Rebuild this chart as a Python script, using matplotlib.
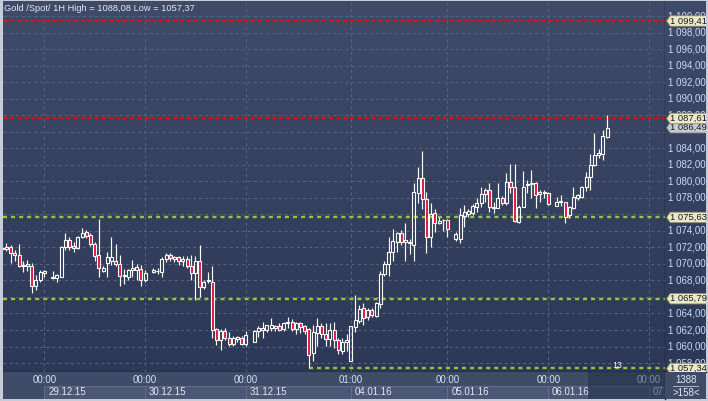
import numpy as np
import matplotlib
matplotlib.use('Agg')
import matplotlib.pyplot as plt
from matplotlib.colors import LinearSegmentedColormap
from matplotlib.patches import Polygon, Rectangle

plt.rcParams['font.family'] = ['Liberation Sans', 'DejaVu Sans']
plt.rcParams['lines.scale_dashes'] = False

# ---------------- data (hourly candles, None = no bar) ----------------
open_ = [1071.85, 1071.75, 1072.05, 1071.35, 1071.05, 1069.75, 1069.8, 1069.75, 1067.3, 1068.05,
         1068.9, None, 1068.3, 1068.3, 1068.45, 1072.0, 1072.9, 1071.9, 1071.9, 1073.2,
         1073.9, 1073.5, 1072.4, 1071.1, 1069.2, 1070.1, 1070.3, 1070.3, 1069.95, 1068.5,
         1068.4, 1069.3, 1069.3, 1069.35, 1068.05, None, 1069.0, 1069.1, 1069.06, 1070.55,
         1071.1, 1070.6, 1070.8, 1070.4, 1070.55, 1069.75, 1068.9, 1070.35, 1067.25, 1067.9,
         1067.85, 1062.1, 1060.8, 1061.9, 1061.0, 1060.3, 1060.9, 1061.0, 1060.3, None,
         1060.6, 1061.9, 1062.0, 1062.0, 1062.3, 1062.3, 1062.5, 1062.1, 1062.8, 1063.0,
         1062.1, 1062.8, 1062.5, 1062.1, 1059.2, 1061.6, 1062.5, 1061.5, 1060.9, 1062.0,
         1060.8, 1059.5, 1060.6, 1058.2, 1062.4, 1063.1, 1064.7, 1063.6, 1064.4, 1063.7,
         1065.2, 1068.8, 1070.0, 1071.5, 1072.7, 1073.7, 1072.6, 1072.5, 1072.3, 1078.6,
         1080.4, 1077.9, 1073.2, 1076.2, 1074.95, 1075.3, 1075.32, None, 1073.05, 1073.05,
         1075.75, 1076.05, 1076.15, 1076.95, 1077.35, 1078.95, 1078.95, 1076.8, 1076.8, 1077.94,
         1077.41, 1079.88, 1079.35, 1075.1, 1076.93, 1079.6, 1079.7, 1079.76, 1078.43, 1078.6,
         1078.6, None, 1077.0, 1077.45, 1077.45, 1075.9, 1076.74, 1077.94, 1078.14, 1079.28,
         1080.49, 1081.98, 1083.19, 1083.3, 1085.33]
high = [1072.0, 1072.5, 1072.3, 1071.7, 1072.45, 1070.3, 1070.5, 1070.15, 1068.65, 1069.3,
        1069.3, None, 1069.2, 1068.8, 1072.15, 1073.8, 1073.3, 1072.6, 1073.4, 1074.3,
        1074.1, 1073.8, 1072.7, 1075.4, 1069.8, 1071.4, 1073.2, 1072.4, 1071.1, 1069.35,
        1069.35, 1070.5, 1070.0, 1069.9, 1069.27, None, 1069.5, 1069.5, 1070.8, 1071.3,
        1071.3, 1071.0, 1071.0, 1070.9, 1070.9, 1071.1, 1071.0, 1072.3, 1068.1, 1069.0,
        1069.75, 1062.3, 1062.1, 1062.3, 1061.7, 1061.3, 1061.3, 1061.3, 1061.9, None,
        1062.0, 1062.5, 1063.0, 1062.6, 1063.4, 1062.6, 1062.8, 1063.0, 1063.6, 1063.3,
        1063.0, 1063.0, 1062.6, 1062.2, 1062.6, 1063.4, 1062.9, 1062.9, 1062.9, 1063.0,
        1061.0, 1061.0, 1061.5, 1062.5, 1066.2, 1065.0, 1065.3, 1064.7, 1064.7, 1065.4,
        1069.2, 1070.3, 1073.2, 1074.2, 1073.9, 1074.1, 1074.9, 1073.0, 1079.8, 1081.7,
        1083.7, 1078.7, 1077.4, 1076.7, 1075.7, 1075.4, 1075.4, None, 1073.9, 1076.74,
        1077.13, 1076.6, 1077.25, 1077.94, 1079.35, 1079.23, 1079.83, 1077.5, 1079.76, 1078.2,
        1080.97, 1082.1, 1082.1, 1077.1, 1081.3, 1080.2, 1081.4, 1079.95, 1078.95, 1078.95,
        1078.75, None, 1078.14, 1078.3, 1077.53, 1077.0, 1079.28, 1078.47, 1079.4, 1081.17,
        1083.3, 1085.9, 1083.9, 1086.2, 1088.08]
low = [1071.8, 1071.6, 1070.1, 1070.3, 1069.65, 1069.05, 1069.2, 1066.45, 1066.85, 1067.85,
       1068.4, None, 1068.2, 1067.85, 1068.4, 1071.7, 1071.7, 1071.5, 1071.8, 1073.1,
       1073.1, 1072.2, 1070.3, 1068.4, 1069.0, 1068.4, 1069.9, 1069.7, 1067.3, 1067.6,
       1068.0, 1068.4, 1068.0, 1067.3, 1067.85, None, 1068.9, 1068.8, 1068.4, 1070.2,
       1070.3, 1070.2, 1069.9, 1069.8, 1069.5, 1068.0, 1065.6, 1066.0, 1067.0, 1067.7,
       1061.0, 1060.2, 1059.6, 1060.8, 1060.1, 1060.1, 1060.5, 1060.2, 1060.1, None,
       1060.6, 1061.2, 1061.0, 1061.8, 1061.9, 1061.9, 1061.9, 1061.9, 1062.2, 1061.9,
       1061.5, 1061.6, 1061.5, 1057.37, 1058.2, 1060.1, 1061.0, 1060.1, 1060.1, 1059.8,
       1059.1, 1059.1, 1059.5, 1058.2, 1061.8, 1062.9, 1062.6, 1063.2, 1063.6, 1063.6,
       1064.7, 1068.5, 1068.5, 1070.4, 1071.4, 1072.3, 1070.3, 1071.2, 1070.4, 1077.4,
       1076.6, 1071.3, 1072.0, 1073.9, 1074.8, 1074.0, 1073.3, None, 1072.8, 1072.57,
       1074.5, 1075.7, 1075.9, 1076.32, 1076.93, 1077.53, 1076.32, 1076.2, 1076.74, 1077.1,
       1077.13, 1078.55, 1075.1, 1075.0, 1076.86, 1078.55, 1077.94, 1076.74, 1077.53, 1077.94,
       1077.13, None, 1077.0, 1077.0, 1074.9, 1075.5, 1076.6, 1077.74, 1077.94, 1078.87,
       1079.0, 1081.8, 1082.8, 1082.6, 1085.2]
close = [1071.95, 1072.05, 1071.3, 1071.05, 1069.75, 1069.9, 1069.95, 1067.3, 1068.1, 1069.05,
         1069.1, None, 1068.45, 1068.65, 1072.1, 1072.9, 1072.1, 1072.2, 1073.2, 1073.8,
         1073.4, 1072.4, 1070.9, 1069.5, 1069.5, 1070.8, 1070.8, 1070.0, 1068.5, 1068.7,
         1069.27, 1069.5, 1069.6, 1068.05, 1068.9, None, 1069.27, 1069.2, 1070.55, 1071.1,
         1070.7, 1070.8, 1070.4, 1070.65, 1069.75, 1068.9, 1070.35, 1067.25, 1067.85, 1068.1,
         1062.0, 1060.8, 1061.9, 1061.0, 1060.3, 1061.0, 1061.1, 1060.3, 1061.4, None,
         1061.9, 1062.3, 1062.2, 1062.6, 1062.6, 1062.5, 1062.0, 1062.8, 1063.0, 1062.1,
         1062.8, 1062.4, 1061.9, 1059.0, 1061.8, 1062.5, 1061.5, 1060.9, 1062.0, 1060.8,
         1059.6, 1060.6, 1060.8, 1062.5, 1063.2, 1064.6, 1063.5, 1064.4, 1063.8, 1065.3,
         1068.8, 1070.0, 1071.5, 1072.8, 1073.7, 1072.7, 1072.9, 1072.7, 1078.7, 1080.4,
         1077.9, 1073.3, 1076.1, 1075.0, 1075.2, 1075.35, 1074.19, None, 1073.59, 1075.9,
         1076.3, 1076.35, 1077.0, 1077.4, 1078.45, 1078.5, 1076.86, 1076.95, 1077.94, 1077.41,
         1079.88, 1079.35, 1075.2, 1076.93, 1079.35, 1079.7, 1079.85, 1078.34, 1078.67, 1078.75,
         1077.25, None, 1077.5, 1077.6, 1075.7, 1076.86, 1078.08, 1078.34, 1079.28, 1080.49,
         1081.98, 1083.19, 1083.39, 1085.49, 1086.49]

day_pos = [10, 34, 58, 83, 106, 130, 154]
time_labels = ['00:00', '00:00', '00:00', '01:00', '00:00', '00:00', '00:00']
date_labels = ['29.12.15', '30.12.15', '31.12.15', '04.01.16', '05.01.16', '06.01.16', '07.']
red_levels = [1099.41, 1087.61]
green_levels = [1075.63, 1065.79]
low_level = 1057.34
low_level_start = 73
last_price = 1086.49
y_ticks = list(range(1058, 1101, 2))
hidden_ticks = [1066, 1076, 1086]          # fully covered by the level tags
title = 'Gold /Spot/ 1H High = 1088,08 Low = 1057,37'
bar_count_text = '13'
corner_top, corner_bottom = '1388', '>158<'

# ---------------- figure ----------------
W, H = 708, 401
fig = plt.figure(figsize=(W / 100, H / 100), dpi=100, facecolor='#c6cdd8')

def px_axes(x0, y0, x1, y1):
    return fig.add_axes([x0 / W, 1 - y1 / H, (x1 - x0) / W, (y1 - y0) / H])

TOP_C, BOT_C = '#3f4b69', '#2c3855'
bg_cmap = LinearSegmentedColormap.from_list('bg', [TOP_C, BOT_C])
PX_PER_UNIT = 8.26
YMIN, YMAX = 1099.41 - 351 / PX_PER_UNIT, 1099.41 + 20 / PX_PER_UNIT
XMIN, XMAX = 0.17, 157.8
FS = 7.0

def gradient(ax, xl, yl):
    ax.imshow(np.linspace(0, 1, 256).reshape(-1, 1), extent=[xl[0], xl[1], yl[0], yl[1]],
              aspect='auto', cmap=bg_cmap, zorder=0, interpolation='bilinear')

# main plot
ax = px_axes(3, 1, 665, 372)
gradient(ax, (XMIN, XMAX), (YMIN, YMAX))
ax.set_xlim(XMIN, XMAX)
ax.set_ylim(YMIN, YMAX)
ax.set_xticks([]); ax.set_yticks([])
for s in ['left', 'top']:
    ax.spines[s].set_visible(False)
for s in ['right', 'bottom']:
    ax.spines[s].set_color('black'); ax.spines[s].set_linewidth(0.9)

grid_kw = dict(color='#56637f', lw=0.75, linestyle=(0, (2.2, 2.2)), zorder=1)
ax.hlines(y_ticks, XMIN, XMAX, **grid_kw)
ax.vlines(day_pos, YMIN, YMAX, **grid_kw)

# level lines
ax.hlines(red_levels, XMIN, XMAX, color='#e00d0d', lw=1.7, linestyle=(0, (2.9, 2.2)), zorder=2)
ax.hlines(green_levels, XMIN, XMAX, color='#93c83c', lw=1.7, linestyle=(0, (2.9, 2.9)), zorder=2)
ax.hlines(low_level, low_level_start, XMAX, color='#93c83c', lw=1.7,
          linestyle=(0, (2.9, 2.9)), zorder=2)

# candles
O = np.array([np.nan if v is None else v for v in open_])
Hh = np.array([np.nan if v is None else v for v in high])
L = np.array([np.nan if v is None else v for v in low])
C = np.array([np.nan if v is None else v for v in close])
idx = np.arange(len(O))
ok = ~np.isnan(O)
x = idx[ok]; o = O[ok]; h = Hh[ok]; l = L[ok]; c = C[ok]
top = np.maximum(o, c); bot = np.minimum(o, c)
ax.vlines(x, top, h, color='white', lw=0.85, zorder=3)
ax.vlines(x, l, bot, color='white', lw=0.85, zorder=3)
up = c >= o
ax.bar(x[up], (top - bot)[up], bottom=bot[up], width=0.72, facecolor='none',
       edgecolor='white', linewidth=0.8, zorder=4)
ax.bar(x[~up], (top - bot)[~up], bottom=bot[~up], width=0.72, facecolor='#e3123f',
       edgecolor='white', linewidth=0.8, zorder=4)

ax.text(146.4, low_level + 0.35, bar_count_text, color='white', fontsize=6.3,
        ha='center', va='center', zorder=5)
fig.text(4 / W, 1 - 8.5 / H, title, color='#e2e6ee', fontsize=6.7, ha='left', va='center')

# right price panel
axr = px_axes(665, 1, 706, 372)
gradient(axr, (0, 41), (YMIN, YMAX))
axr.set_xlim(0, 41); axr.set_ylim(YMIN, YMAX)
axr.set_xticks([]); axr.set_yticks([])
for s in ['left', 'top', 'right']:
    axr.spines[s].set_visible(False)
axr.spines['bottom'].set_color('black'); axr.spines['bottom'].set_linewidth(0.9)

def fmt(v):
    th = int(v) // 1000
    rest = v - th * 1000
    return f"{th} {rest:06.2f}".replace('.', ',')

for v in y_ticks:
    if v in hidden_ticks:
        continue
    axr.text(3.0, v, fmt(v), color='#c8dcf4', fontsize=FS, ha='left', va='center', zorder=2)

tag_h = 10.5 / PX_PER_UNIT
def tag(v, fc, ec, z):
    pts = [(1.6, v), (5.2, v + tag_h / 2), (41.5, v + tag_h / 2), (41.5, v - tag_h / 2), (5.2, v - tag_h / 2)]
    axr.add_patch(Polygon(pts, closed=True, facecolor=fc, edgecolor=ec, lw=0.6, zorder=z))
    axr.text(4.6, v, fmt(v), color='#141c2c', fontsize=6.8, ha='left', va='center', zorder=z + 0.5)

tag(last_price, '#c9ccd2', '#7c8090', 5)
for v in red_levels + green_levels + [low_level]:
    tag(v, '#ece8c6', '#8a8668', 6)

# bottom time panel
axb = px_axes(3, 372, 665, 399)
axb.set_xlim(XMIN, XMAX); axb.set_ylim(27, 0)
axb.set_facecolor('#3f4b67')
axb.set_xticks([]); axb.set_yticks([])
for s in ['left', 'top', 'bottom']:
    axb.spines[s].set_visible(False)
axb.spines['right'].set_color('black'); axb.spines['right'].set_linewidth(0.9)
for k in range(len(day_pos)):
    x0 = day_pos[k]
    x1 = day_pos[k + 1] if k + 1 < len(day_pos) else XMAX + 5
    axb.add_patch(Rectangle((x0, 14), x1 - x0, 12.5, facecolor='#4b5775', edgecolor='#62708c', lw=0.7, zorder=1))
    future = k == len(day_pos) - 1
    axb.text(x0, 8, time_labels[k], color='#7c8aa4' if future else '#d0e0f4', fontsize=FS,
             ha='center', va='center', zorder=3)
    axb.text(x0 + 0.9, 20.3, date_labels[k], color='#7c8aa4' if future else '#e2e8f0', fontsize=FS,
             ha='left', va='center', zorder=3)
axb.add_patch(Rectangle((139.4, 0), XMAX - 139.4, 27, facecolor='#243049', alpha=0.55, lw=0, zorder=2))

# corner box
axc = px_axes(665, 372, 706, 399)
axc.set_xlim(0, 41); axc.set_ylim(27, 0)
axc.set_facecolor('#3f4b67')
axc.set_xticks([]); axc.set_yticks([])
for s in ['top', 'bottom', 'right', 'left']:
    axc.spines[s].set_visible(False)
axc.text(21, 8, corner_top, color='#e2e8f0', fontsize=FS, ha='center', va='center')
axc.plot([8, 33], [14, 14], color='#a8b4c8', lw=0.7)
axc.text(21, 20.5, corner_bottom, color='#e2e8f0', fontsize=FS, ha='center', va='center')

fig.savefig('out.png', dpi=100, facecolor=fig.get_facecolor())
